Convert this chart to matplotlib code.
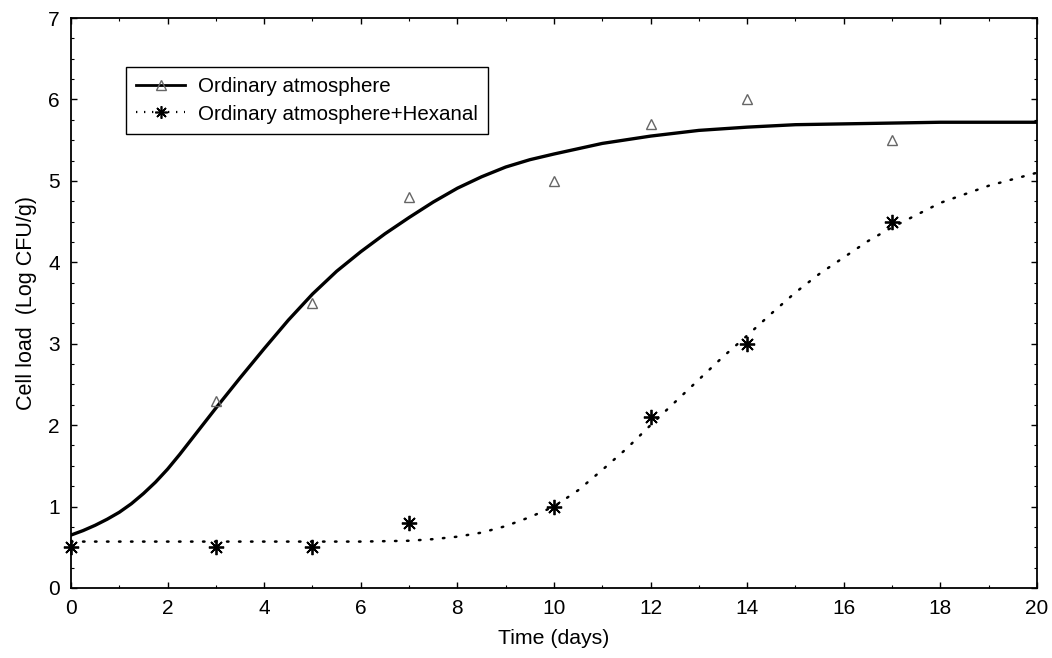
import numpy as np
import matplotlib.pyplot as plt
from matplotlib.ticker import MultipleLocator

plt.rcParams['font.family'] = ['Liberation Sans', 'DejaVu Sans']

# datos medidos (puntos)
dias_obs = [3, 5, 7, 10, 12, 14, 17]
ordinaria_obs = [2.3, 3.5, 4.8, 5.0, 5.7, 6.0, 5.5]

dias_hex = [0, 3, 5, 7, 10, 12, 14, 17]
hexanal_obs = [0.5, 0.5, 0.5, 0.8, 1.0, 2.1, 3.0, 4.5]

# curvas ajustadas
dias_curva = [0, 0.25, 0.5, 0.75, 1, 1.25, 1.5, 1.75, 2, 2.25, 2.5, 3, 3.5,
              4, 4.5, 5, 5.5, 6, 6.5, 7, 7.5, 8, 8.5, 9, 9.5, 10, 11, 12, 13,
              14, 15, 16, 17, 18, 19, 20]
ordinaria_curva = [0.65, 0.705, 0.77, 0.845, 0.93, 1.035, 1.16, 1.30, 1.46,
                   1.64, 1.83, 2.21, 2.58, 2.94, 3.29, 3.61, 3.89, 4.13, 4.35,
                   4.55, 4.74, 4.91, 5.05, 5.17, 5.26, 5.33, 5.46, 5.55, 5.62,
                   5.66, 5.69, 5.70, 5.71, 5.72, 5.72, 5.72]

dias_curva_hex = [0, 2, 4, 6, 7, 7.5, 8, 8.5, 9, 9.5, 10, 10.5, 11, 11.5, 12,
                  12.5, 13, 13.5, 14, 14.5, 15, 15.5, 16, 16.5, 17, 18, 19, 20]
hexanal_curva = [0.57, 0.57, 0.57, 0.57, 0.58, 0.60, 0.63, 0.68, 0.76, 0.87,
                 1.0, 1.2, 1.45, 1.71, 2.0, 2.28, 2.56, 2.84, 3.1, 3.37,
                 3.63, 3.86, 4.06, 4.26, 4.43, 4.73, 4.94, 5.1]

fig = plt.figure(figsize=(10.52, 6.58), dpi=100)
ax = fig.add_axes([0.0675, 0.1064, 0.9182, 0.8662])

ax.plot(dias_curva, ordinaria_curva, color='black', lw=2.4, zorder=2)
ax.plot(dias_curva_hex, hexanal_curva, color='black', lw=1.8,
        linestyle=(0, (0.6, 4.2)), dash_capstyle='round', zorder=2)

ax.plot(dias_obs, ordinaria_obs, linestyle='none', marker='^', ms=7.5,
        mfc='none', mec='#666666', mew=1.0, zorder=3)
ax.plot(dias_hex, hexanal_obs, linestyle='none', marker=(8, 2, 0), ms=11,
        mec='black', mew=1.3, zorder=3, clip_on=False)

# entradas de la leyenda
h1, = ax.plot([], [], color='black', lw=2.0, marker='^', ms=7, mfc='none',
              mec='#666666', label='Ordinary atmosphere')
h2, = ax.plot([], [], color='black', lw=1.6, linestyle=(0, (0.6, 3)),
              marker=(8, 2, 0), ms=9, mec='black', mew=1.2,
              label='Ordinary atmosphere+Hexanal')
leg = ax.legend(handles=[h1, h2], loc='upper left',
                bbox_to_anchor=(0.046, 0.932), fontsize=14.8, frameon=True,
                fancybox=False, edgecolor='black', framealpha=1,
                handlelength=2.4, borderpad=0.5, labelspacing=0.4,
                handletextpad=0.6)
leg.get_frame().set_linewidth(1.0)

ax.set_xlim(0, 20)
ax.set_ylim(0, 7)
ax.xaxis.set_major_locator(MultipleLocator(2))
ax.xaxis.set_minor_locator(MultipleLocator(1))
ax.yaxis.set_major_locator(MultipleLocator(1))
ax.yaxis.set_minor_locator(MultipleLocator(0.25))
ax.tick_params(which='both', direction='in', top=True, right=True,
               labelsize=15)
ax.tick_params(which='major', length=4, width=1, pad=8)
ax.tick_params(which='minor', length=2.5, width=0.8)
for s in ax.spines.values():
    s.set_linewidth(1.3)

ax.set_xlabel('Time (days)', fontsize=15.3, labelpad=8)
ax.set_ylabel('Cell load  (Log CFU/g)', fontsize=15.5, labelpad=8)

plt.savefig('out.png', dpi=100)
